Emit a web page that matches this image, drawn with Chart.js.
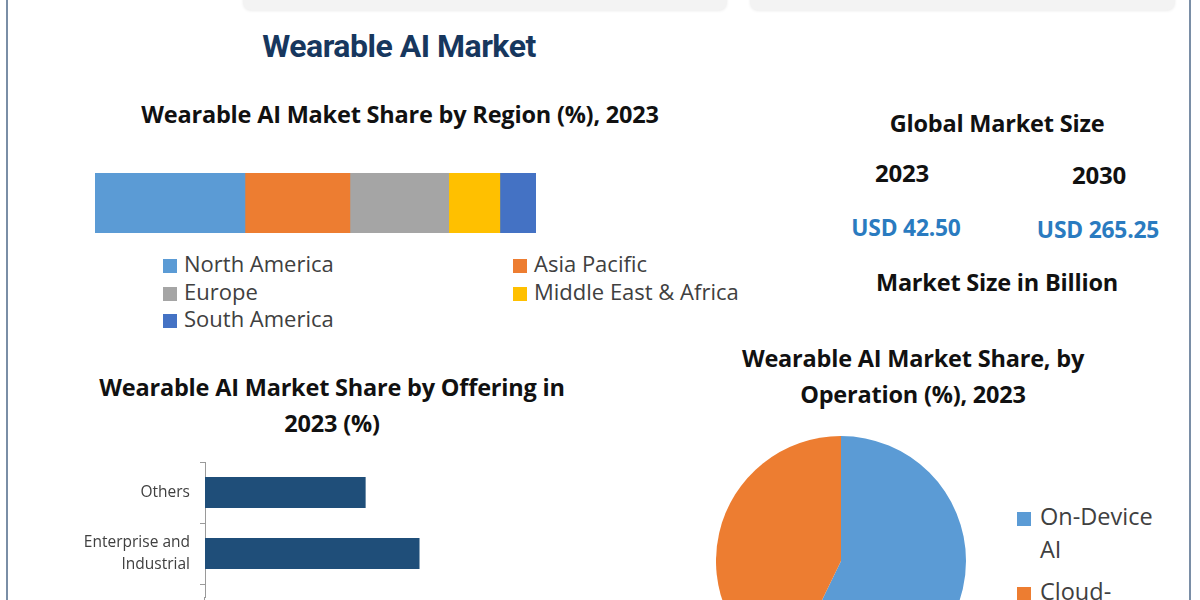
<!DOCTYPE html>
<html>
<head>
<meta charset="utf-8">
<script src="https://cdn.jsdelivr.net/npm/chart.js@4.4.1/dist/chart.umd.min.js"></script>
<style>
  html, body { margin: 0; padding: 0; width: 1200px; height: 600px; overflow: hidden; background: #fff; }
  body { position: relative; font-family: "Open Sans", "DejaVu Sans", sans-serif; }
  .abs { position: absolute; }
  .c { position: absolute; transform: translate(-50%, -50%); white-space: nowrap; }
  .frame { position: absolute; top: 0; bottom: 0; width: 2px; background: #7a8ea6; }
  .tab { position: absolute; top: -12px; height: 22px; background: #f3f3f3; border-radius: 8px; box-shadow: 0 1px 3px rgba(0,0,0,0.08); }
  .head { font-weight: 700; font-size: 23.5px; color: #111; letter-spacing: -0.2px; }
  .swatch { display: inline-block; width: 14px; height: 14px; margin-right: 7px; vertical-align: -1px; }
  .leg { position: absolute; font-size: 22px; color: #404040; line-height: 27.5px; white-space: nowrap; }
</style>
</head>
<body>
<div class="tab" style="left:243px; width:484px;"></div>
<div class="tab" style="left:750px; width:425px;"></div>
<div class="frame" style="left:6px;"></div>
<div class="frame" style="left:1189px;"></div>

<div class="c" id="mainTitle" style="left:399px; top:46px; font-family: Roboto, sans-serif; font-weight:700; font-size:32px; color:#17375e; letter-spacing:-0.5px;">Wearable AI Market</div>
<div class="c head" style="left:400px; top:114px;">Wearable AI Maket Share by Region (%), 2023</div>

<div class="abs" style="left:95px; top:173px; width:441px; height:60px;"><canvas id="regionChart"></canvas></div>
<div id="regionLegend"></div>

<div class="c head" style="left:997px; top:123px;">Global Market Size</div>
<div id="marketBox"></div>
<div class="c head" style="left:997px; top:282px;">Market Size in Billion</div>

<div class="c head" style="left:332px; top:387px;">Wearable AI Market Share by Offering in</div>
<div class="c head" style="left:332px; top:423px;">2023 (%)</div>
<!-- la imagen original está recortada justo antes de la tercera barra -->
<div class="abs" style="left:60px; top:462px; width:450px; height:136px; overflow:hidden;">
  <div style="position:relative; width:450px; height:183px;"><canvas id="offeringChart"></canvas></div>
</div>
<div class="abs" style="left:204px; top:597px; width:1px; height:3px; background:#9a9a9a;"></div>

<div class="c head" style="left:913px; top:358px;">Wearable AI Market Share, by</div>
<div class="c head" style="left:913px; top:394px;">Operation (%), 2023</div>
<div class="abs" style="left:716px; top:436px; width:250px; height:250px;"><canvas id="operationChart"></canvas></div>
<div id="operationLegend"></div>

<script>
// datos
const regions = ['North America', 'Asia Pacific', 'Europe', 'Middle East & Africa', 'South America'];
const regionShare = [34.0, 23.8, 22.4, 11.6, 8.2];
const regionColors = ['#5b9bd5', '#ed7d31', '#a5a5a5', '#ffc000', '#4472c4'];

const offeringLabels = ['Others', ['Enterprise and', 'Industrial'], 'Consumer Electronics'];
const offeringShare = [15.8, 21.1, 26.0];

const operationLabels = ['On-Device AI', 'Cloud-based AI'];
const operationShare = [57.2, 42.8];
const operationColors = ['#5b9bd5', '#ed7d31'];

const marketYears = ['2023', '2030'];
const marketValues = ['USD 42.50', 'USD 265.25'];

Chart.defaults.font.family = '"Open Sans", sans-serif';
Chart.defaults.animation = false;

// barra apilada por region
new Chart(document.getElementById('regionChart'), {
    type: 'bar',
    data: {
        labels: ['2023'],
        datasets: regions.map((r, i) => ({
            label: r,
            data: [regionShare[i]],
            backgroundColor: regionColors[i],
            borderWidth: 0,
            barPercentage: 1,
            categoryPercentage: 1
        }))
    },
    options: {
        indexAxis: 'y',
        responsive: true,
        maintainAspectRatio: false,
        layout: { padding: 0 },
        plugins: { legend: { display: false }, tooltip: { enabled: false } },
        scales: {
            x: { stacked: true, display: false, min: 0, max: 100 },
            y: { stacked: true, display: false }
        }
    }
});

// leyenda de regiones (dos columnas)
const regionLegend = document.getElementById('regionLegend');
regions.forEach((r, i) => {
    const col = i % 2, row = Math.floor(i / 2);
    const d = document.createElement('div');
    d.className = 'leg';
    d.style.left = (col === 0 ? 163 : 513) + 'px';
    d.style.top = (250 + row * 27.5) + 'px';
    d.innerHTML = `<span class="swatch" style="background:${regionColors[i]}"></span>${r}`;
    regionLegend.appendChild(d);
});

// tamaño de mercado
const marketBox = document.getElementById('marketBox');
marketYears.forEach((y, i) => {
    const cx = i === 0 ? 902 : 1099;
    marketBox.insertAdjacentHTML('beforeend',
        `<div class="c head" style="left:${cx}px; top:${172 + i * 2}px; font-size:24px;">${y}</div>` +
        `<div class="c head" style="left:${i === 0 ? 906 : 1098}px; top:${227 + i * 2}px; font-size:22.8px; color:#2a7bc0;">${marketValues[i]}</div>`);
});

// barras por oferta
new Chart(document.getElementById('offeringChart'), {
    type: 'bar',
    data: {
        labels: offeringLabels,
        datasets: [{
            data: offeringShare,
            backgroundColor: '#1f4e79',
            borderWidth: 0,
            barPercentage: 0.51,
            categoryPercentage: 1
        }]
    },
    options: {
        indexAxis: 'y',
        responsive: true,
        maintainAspectRatio: false,
        layout: { padding: 0 },
        plugins: { legend: { display: false }, tooltip: { enabled: false } },
        scales: {
            x: { display: false, min: 0, max: 30 },
            y: {
                afterFit: axis => {
                    axis.width = 145;
                    axis.paddingTop = 0;
                    axis.paddingBottom = 0;
                },
                border: { display: true, color: '#9a9a9a', width: 1 },
                grid: { offset: true, drawOnChartArea: false, drawTicks: true, tickLength: 5, color: '#9a9a9a' },
                ticks: { color: '#404040', font: { size: 15.5, lineHeight: 1.4 }, padding: 10 }
            }
        }
    }
});

// pastel por operacion
new Chart(document.getElementById('operationChart'), {
    type: 'pie',
    data: {
        labels: operationLabels,
        datasets: [{
            data: operationShare,
            backgroundColor: operationColors,
            borderWidth: 0
        }]
    },
    options: {
        responsive: true,
        maintainAspectRatio: false,
        layout: { padding: 0 },
        plugins: { legend: { display: false }, tooltip: { enabled: false } }
    }
});

// leyenda del pastel
const operationLegend = document.getElementById('operationLegend');
const legendLines = [['On-Device', 'AI'], ['Cloud-', 'based AI']];
legendLines.forEach((lines, i) => {
    const d = document.createElement('div');
    d.className = 'leg';
    d.style.left = '1017px';
    d.style.top = (500 + i * 75) + 'px';
    d.style.fontSize = '23.5px';
    d.style.lineHeight = '33px';
    d.innerHTML = `<span class="swatch" style="background:${operationColors[i]}; margin-right:9px"></span>${lines[0]}<br><span style="padding-left:23px">${lines[1]}</span>`;
    operationLegend.appendChild(d);
});
</script>
</body>
</html>
